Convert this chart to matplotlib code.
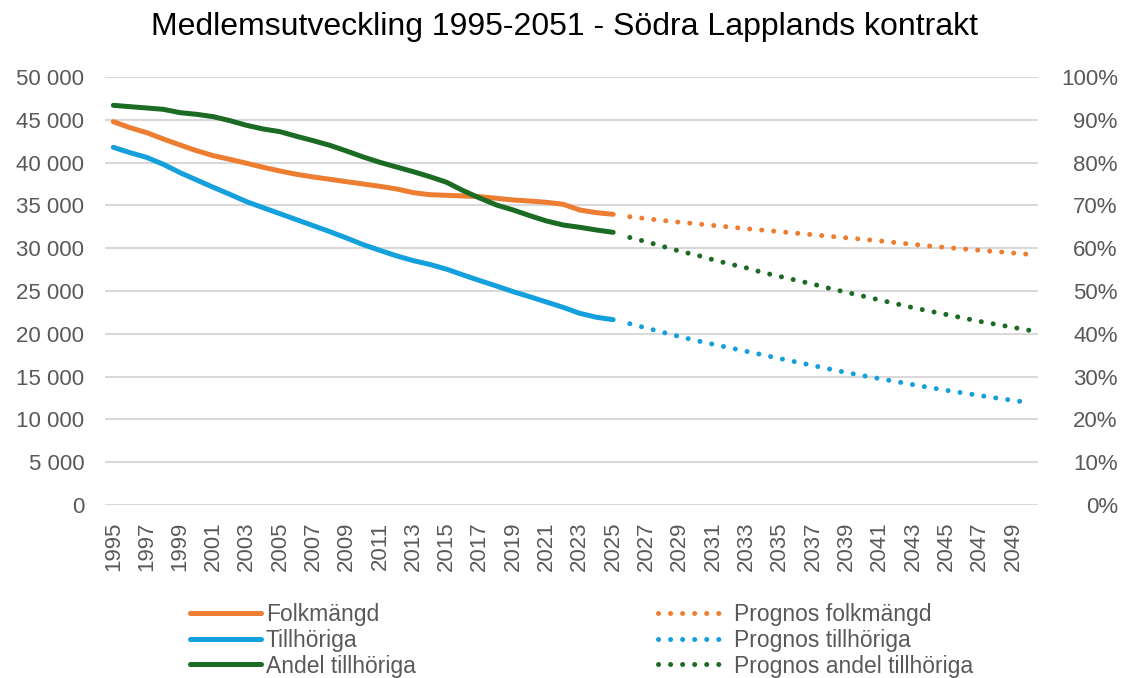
import matplotlib
matplotlib.use("Agg")
import matplotlib.pyplot as plt
from matplotlib.ticker import FuncFormatter, MultipleLocator

plt.rcParams['font.family'] = ['Liberation Sans', 'DejaVu Sans']

title = "Medlemsutveckling 1995-2051 - Södra Lapplands kontrakt"
years = list(range(1995, 2051))
hist_years = list(range(1995, 2026))
prog_years = list(range(2026, 2051))

folkmangd = [44780, 44080, 43500, 42760, 42060, 41390, 40810, 40380, 39920, 39450,
             39020, 38630, 38320, 38050, 37770, 37500, 37230, 36920, 36490, 36250,
             36180, 36100, 36020, 35830, 35630, 35510, 35360, 35130, 34460, 34150, 33960]
tillhoriga = [41790, 41160, 40610, 39800, 38830, 37970, 37110, 36290, 35430, 34730,
              34030, 33330, 32630, 31930, 31190, 30410, 29750, 29100, 28550, 28100,
              27550, 26870, 26210, 25580, 24920, 24330, 23710, 23090, 22390, 21930, 21650]
andel = [93.38, 93.07, 92.76, 92.45, 91.67, 91.28, 90.73, 89.80, 88.71, 87.85,
         87.23, 86.14, 85.12, 84.03, 82.71, 81.31, 80.06, 78.97, 77.88, 76.71,
         75.40, 73.44, 71.70, 70.09, 68.93, 67.60, 66.36, 65.42, 64.88, 64.25, 63.71]

prog_folkmangd = [33680, 33450, 33230, 33030, 32850, 32660, 32470, 32280, 32110, 31930,
                  31750, 31570, 31390, 31210, 31040, 30850, 30650, 30450, 30250, 30080,
                  29920, 29760, 29600, 29440, 29280]
prog_tillhoriga = [21180, 20670, 20160, 19670, 19200, 18780, 18360, 17950, 17530, 17110,
                   16700, 16290, 15880, 15470, 15110, 14760, 14410, 14060, 13720, 13400,
                   13090, 12790, 12500, 12220, 11950]
prog_andel = [62.5, 61.5, 60.4, 59.3, 58.4, 57.3, 56.3, 55.4, 54.3, 53.4,
              52.5, 51.6, 50.6, 49.7, 48.8, 47.9, 47.0, 46.1, 45.3, 44.5,
              43.7, 42.9, 42.2, 41.5, 40.8]

labels = ["Folkmängd", "Tillhöriga", "Andel tillhöriga",
          "Prognos folkmängd", "Prognos tillhöriga", "Prognos andel tillhöriga"]

C_ORANGE = "#ED7D31"
C_BLUE = "#14A0DC"
C_GREEN = "#1C6B24"
GRID = "#D9D9D9"
TXT = "#595959"

W, H = 1122, 678
fig = plt.figure(figsize=(W / 100, H / 100), dpi=100)
ax = fig.add_axes([105 / W, 1 - 505 / H, (1038 - 105) / W, (505 - 77) / H])
ax2 = ax.twinx()

idx = {y: i for i, y in enumerate(years)}
hx = [idx[y] for y in hist_years]
px = [idx[y] for y in prog_years]

LW = 3.6
dot = (0, (0.01, 2.4))

l1, = ax.plot(hx, folkmangd, color=C_ORANGE, lw=LW, solid_capstyle='round', zorder=3)
l2, = ax.plot(hx, tillhoriga, color=C_BLUE, lw=LW, solid_capstyle='round', zorder=3)
l4, = ax.plot(px, prog_folkmangd, color=C_ORANGE, lw=LW, linestyle=dot, dash_capstyle='round', zorder=3)
l5, = ax.plot(px, prog_tillhoriga, color=C_BLUE, lw=LW, linestyle=dot, dash_capstyle='round', zorder=3)
l3, = ax2.plot(hx, andel, color=C_GREEN, lw=LW, solid_capstyle='round', zorder=3)
l6, = ax2.plot(px, prog_andel, color=C_GREEN, lw=LW, linestyle=dot, dash_capstyle='round', zorder=3)

ax.set_xlim(-0.5, len(years) - 0.5)
ax.set_ylim(0, 50000)
ax2.set_ylim(0, 100)

ax.yaxis.set_major_locator(MultipleLocator(5000))
ax.yaxis.set_major_formatter(FuncFormatter(lambda v, p: f"{int(v):,}".replace(",", " ")))
ax2.yaxis.set_major_locator(MultipleLocator(10))
ax2.yaxis.set_major_formatter(FuncFormatter(lambda v, p: f"{int(round(v))}%"))

tick_pos = list(range(0, len(years), 2))
ax.set_xticks(tick_pos)
ax.set_xticklabels([str(years[i]) for i in tick_pos], rotation=90)

FS = 16
ax.tick_params(axis='x', length=0, pad=12, labelsize=FS, labelcolor=TXT)
ax.tick_params(axis='y', length=0, pad=15, labelsize=FS, labelcolor=TXT)
ax2.tick_params(axis='y', length=0, pad=57.5, labelsize=FS, labelcolor=TXT)
for lab in ax2.get_yticklabels():
    lab.set_horizontalalignment('right')

ax.grid(axis='y', color=GRID, lw=1.5, zorder=0)
ax.set_axisbelow(True)
for a in (ax, ax2):
    for s in a.spines.values():
        s.set_visible(False)

fig.text(0.503, 1 - 27 / H, title, ha='center', va='center', fontsize=23, color='black')

leg = fig.legend([l1, l2, l3, l4, l5, l6], labels, ncol=2,
                 loc='upper left', bbox_to_anchor=(190 / W, 1 - 603 / H),
                 frameon=False, fontsize=16.5, handlelength=3.1, handletextpad=0.2,
                 labelspacing=0.12, columnspacing=10.6, borderpad=0, borderaxespad=0)
for t in leg.get_texts():
    t.set_color(TXT)

fig.savefig("out.png", dpi=100)
